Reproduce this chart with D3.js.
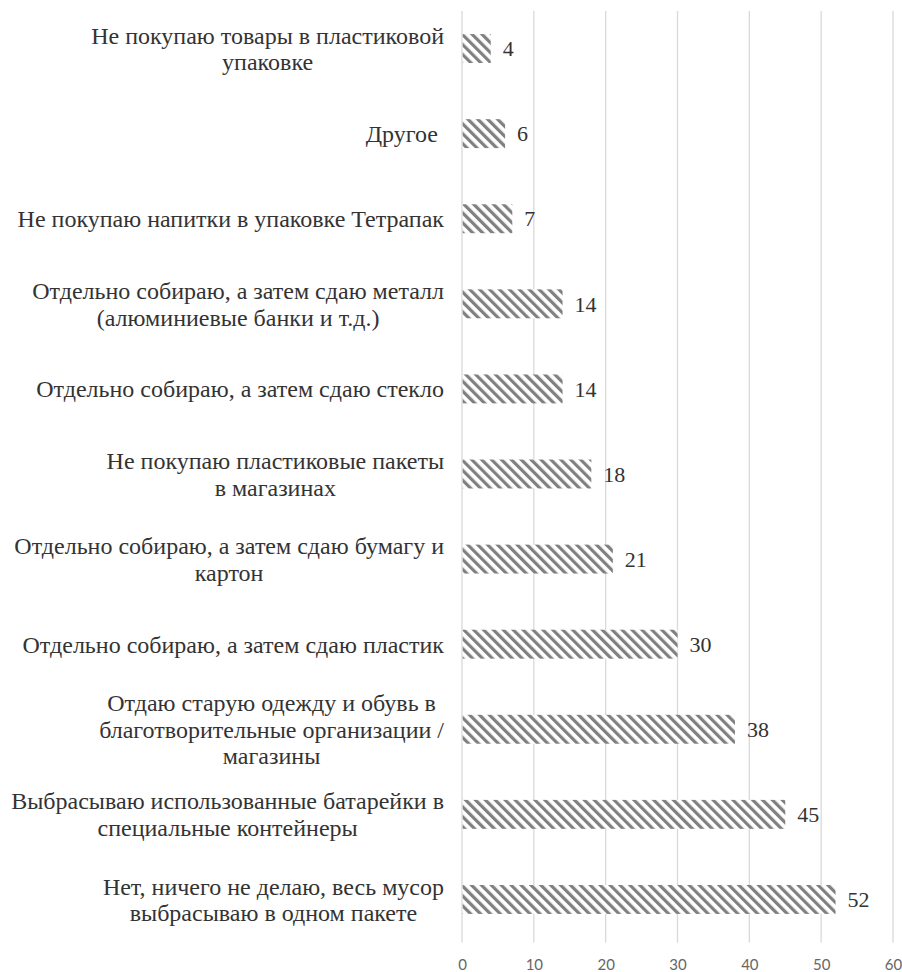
<!DOCTYPE html>
<html>
<head>
<meta charset="UTF-8">
<script src="https://d3js.org/d3.v7.min.js"></script>
</head>
<body style="margin:0">
<script>
  // categories, top to bottom (line breaks as in the original)
  var categories = [
    "Не покупаю товары в пластиковой\nупаковке",
    "Другое\u00a0",
    "Не покупаю напитки в упаковке Тетрапак",
    "Отдельно собираю, а затем сдаю металл\n(алюминиевые банки и т.д.)",
    "Отдельно собираю, а затем сдаю стекло",
    "Не покупаю пластиковые пакеты\nв магазинах",
    "Отдельно собираю, а затем сдаю бумагу и\nкартон",
    "Отдельно собираю, а затем сдаю пластик",
    "Отдаю старую одежду и обувь в\nблаготворительные организации /\nмагазины",
    "Выбрасываю использованные батарейки в\nспециальные контейнеры",
    "Нет, ничего не делаю, весь мусор\nвыбрасываю в одном пакете"
  ];
  var values = [4, 6, 7, 14, 14, 18, 21, 30, 38, 45, 52];
  var xTicks = [0, 10, 20, 30, 40, 50, 60];

  var width = 902, height = 972;
  var margin = { top: 6, right: 9, bottom: 30, left: 462 };

  var svg = d3.select("body")
    .append("svg")
    .attr("width", width)
    .attr("height", height)
    .attr("font-family", "Liberation Serif");

  // diagonal hatch fill
  var pat = svg.append("defs").append("pattern")
    .attr("id", "hatch")
    .attr("patternUnits", "userSpaceOnUse")
    .attr("width", 7)
    .attr("height", 7)
    .attr("patternTransform", "rotate(-45)");
  pat.append("rect").attr("width", 7).attr("height", 7).attr("fill", "#fff");
  pat.append("rect").attr("width", 3.2).attr("height", 7).attr("fill", "#808080");

  var x = d3.scaleLinear()
    .domain([0, 60])
    .range([margin.left, width - margin.right]);

  var y = d3.scaleBand()
    .domain(categories)
    .range([margin.top, height - margin.bottom])
    .paddingInner(0.66)
    .paddingOuter(0.33);

  // gridlines
  svg.append("g")
    .selectAll("line")
    .data(xTicks)
    .enter()
    .append("line")
    .attr("x1", function(d) { return x(d); })
    .attr("x2", function(d) { return x(d); })
    .attr("y1", 11)
    .attr("y2", 942.5)
    .attr("stroke", "#d9d9d9")
    .attr("stroke-width", 1.3);

  // x axis labels
  var xAxis = svg.append("g")
    .attr("transform", "translate(0,956)")
    .call(d3.axisBottom(x).tickValues(xTicks).tickSize(0).tickPadding(0));
  xAxis.select(".domain").remove();
  xAxis.attr("font-family", "Lato").attr("font-size", 15);
  xAxis.selectAll("text")
    .attr("dy", "0.9em")
    .attr("fill", "#666");

  // bars
  svg.append("g")
    .selectAll("rect")
    .data(values)
    .enter()
    .append("rect")
    .attr("x", x(0) + 0.7)
    .attr("y", function(d, i) { return y(categories[i]); })
    .attr("width", function(d) { return x(d) - x(0) - 0.7; })
    .attr("height", y.bandwidth())
    .attr("fill", "url(#hatch)");

  // value labels
  svg.append("g")
    .attr("font-size", 22)
    .attr("fill", "#333")
    .selectAll("text")
    .data(values)
    .enter()
    .append("text")
    .attr("x", function(d) { return x(d) + 12; })
    .attr("y", function(d, i) { return y(categories[i]) + y.bandwidth() / 2; })
    .attr("dy", "0.35em")
    .style("font-family", "'Liberation Serif'")
    .text(function(d) { return d; });

  // category labels: centred lines, block right-aligned to x = 444
  var rightEdge = 444, lineH = 26.6;
  var labels = svg.append("g")
    .attr("font-size", 24)
    .attr("fill", "#333")
    .selectAll("g")
    .data(categories)
    .enter()
    .append("g");

  labels.each(function(c) {
    var g = d3.select(this);
    var lines = c.split("\n");
    var cy = y(c) + y.bandwidth() / 2;
    var t = g.selectAll("text")
      .data(lines)
      .enter()
      .append("text")
      .attr("y", function(d, j) { return cy + (j - (lines.length - 1) / 2) * lineH; })
      .attr("dy", "0.35em")
      .attr("text-anchor", "middle")
      .style("font-family", "'Liberation Serif'")
      .text(function(d) { return d; });
    var w = 0;
    t.each(function() { w = Math.max(w, this.getComputedTextLength()); });
    t.attr("x", rightEdge - w / 2);
  });
</script>
</body>
</html>
